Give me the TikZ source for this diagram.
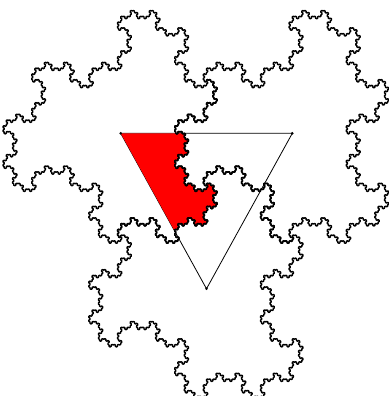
\documentclass[tikz,border=0pt]{standalone}
\newdimen\gx \newdimen\gy \newcount\ghd
\def\glev{8}
\def\gstep{\global\advance\gx by \csname gdx\the\ghd\endcsname\relax
  \global\advance\gy by \csname gdy\the\ghd\endcsname\relax
  \pgfpathlineto{\pgfqpoint{\gx}{\gy}}}
\def\gturn#1{\global\advance\ghd by \numexpr#1\relax
  \ifnum\ghd<0 \global\advance\ghd by 12 \fi
  \ifnum\ghd>11 \global\advance\ghd by -12 \fi}
% #1 level, #2 side (+1 bend left, -1 bend right)
\def\bnd#1#2{\ifnum#1=0 \gstep\else\expandafter\bndrec\expandafter{\the\numexpr#1-1\relax}{#2}\fi}
\def\bndrec#1#2{\gturn{#2}\bnd{#1}{1}\gturn{-2*(#2)}\bnd{#1}{-1}\gturn{#2}}
\def\gd{171.6}
\pgfmathsetmacro\gR{\gd/sqrt(3)}
\pgfmathsetmacro\gs{\gR/(sqrt(3)^\glev)}
\foreach \k in {0,...,11}{%
  \pgfmathsetmacro\tmpx{\gs*cos(30*\k)}%
  \pgfmathsetmacro\tmpy{\gs*sin(30*\k)}%
  \expandafter\xdef\csname gdx\k\endcsname{\tmpx pt}%
  \expandafter\xdef\csname gdy\k\endcsname{\tmpy pt}}
\def\tile#1#2{%
  \pgfmathsetmacro\tmpx{#1+\gR*cos(30)}%
  \pgfmathsetmacro\tmpy{#2+\gR*sin(30)}%
  \global\gx=\tmpx pt\relax \global\gy=\tmpy pt\relax
  \global\ghd=5\relax
  \pgfpathmoveto{\pgfqpoint{\gx}{\gy}}%
  \bnd{\glev}{-1}\gturn{2}\bnd{\glev}{1}\gturn{2}%
  \bnd{\glev}{-1}\gturn{2}\bnd{\glev}{1}\gturn{2}%
  \bnd{\glev}{-1}\gturn{2}\bnd{\glev}{1}\gturn{2}%
  \pgfpathclose}
\begin{document}
\begin{tikzpicture}[x=1pt,y=1pt]
\useasboundingbox (0,0) rectangle (388,396);
\begin{scope}[shift={(120.7pt,262.7pt)},yscale=1.046]
  \coordinate (A) at (0,0);
  \coordinate (B) at (171.6,0);
  \coordinate (C) at (85.8,-148.61);
  \draw[line width=0.8pt] (A) -- (B) -- (C) -- cycle;
  \begin{scope}
    \clip (A) -- (B) -- (C) -- cycle;
    \pgfsetfillcolor{red}
    \tile{0}{0}\pgfusepath{fill}
  \end{scope}
  \foreach \p in {A,B,C} \fill (\p) circle (1.4pt);
  \pgfsetlinewidth{1.4pt}
  \pgfsetroundjoin
  \tile{0}{0}\pgfusepath{stroke}
  \tile{171.6}{0}\pgfusepath{stroke}
  \tile{85.8}{-148.61}\pgfusepath{stroke}
\end{scope}
\end{tikzpicture}
\end{document}
